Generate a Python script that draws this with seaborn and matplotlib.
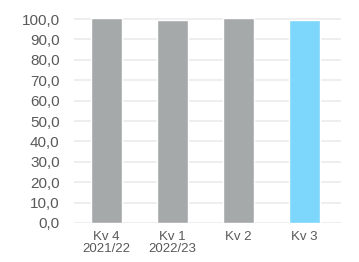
import matplotlib
matplotlib.use("Agg")
import matplotlib.pyplot as plt
import seaborn as sns
import pandas as pd
from matplotlib.ticker import FuncFormatter

quarters = ["Kv 4\n2021/22", "Kv 1\n2022/23", "Kv 2", "Kv 3"]
values = [100.6, 99.6, 100.4, 99.7]
colors = ["#A6A9AA", "#A6A9AA", "#A6A9AA", "#7DD6FC"]

df = pd.DataFrame({"quarter": quarters, "value": values})

sns.set_style("white")
plt.rcParams["font.family"] = ["Liberation Sans", "DejaVu Sans"]

fig, ax = plt.subplots(figsize=(3.59, 2.62), dpi=100)
sns.barplot(data=df, x="quarter", y="value", hue="quarter", palette=colors,
            legend=False, width=0.47, ax=ax, saturation=1, zorder=2)

ax.set_ylim(0, 101.5)
ax.set_yticks(range(0, 101, 10))
ax.yaxis.set_major_formatter(FuncFormatter(lambda v, p: f"{v:.1f}".replace(".", ",")))
ax.set_xlim(-0.5, 3.55)
ax.grid(axis="y", color="#EBEBEB", linewidth=1.2, zorder=0)
ax.set_axisbelow(True)
for s in ax.spines.values():
    s.set_visible(False)
ax.tick_params(axis="y", labelsize=11, colors="#595959", length=0, pad=10)
ax.tick_params(axis="x", labelsize=9.5, colors="#595959", length=0, pad=6)
for lbl in ax.get_xticklabels():
    lbl.set_linespacing(1.0)
ax.set_xlabel("")
ax.set_ylabel("")

fig.subplots_adjust(left=0.205, right=0.95, top=0.939, bottom=0.149)
fig.savefig("out.png", dpi=100)
